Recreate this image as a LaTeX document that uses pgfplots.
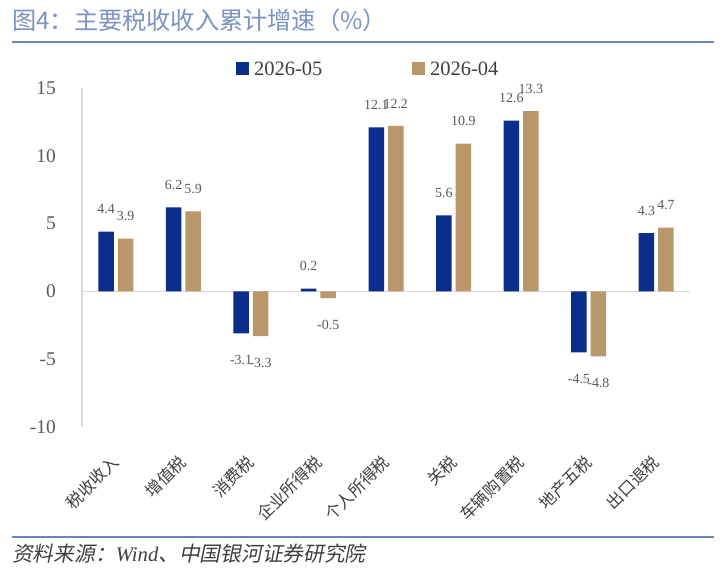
\documentclass[border=0pt]{standalone}
\usepackage{pgfplots}
\usepackage{pgfplotstable}
\pgfplotsset{compat=1.18}
\usepackage{fontspec}
\setmainfont{Liberation Serif}
\newfontfamily\cjk{Noto Sans CJK SC}
\newfontfamily\cjkit[FakeSlant=0.2]{Noto Sans CJK SC}
\definecolor{barblue}{HTML}{0B2D8C}
\definecolor{bartan}{HTML}{B9976A}
\definecolor{axisgray}{HTML}{D9D9D9}
\definecolor{labgray}{HTML}{595959}
\definecolor{catgray}{HTML}{3F3F3F}
\definecolor{titleblue}{HTML}{7A93C2}
\definecolor{lineblue}{HTML}{6A85B6}

\pgfplotstableread{
x y05 y04
0 4.4 3.9
1 6.2 5.9
2 -3.1 -3.3
3 0.2 -0.5
4 12.1 12.2
5 5.6 10.9
6 12.6 13.3
7 -4.5 -4.8
8 4.3 4.7
}\taxdata

\begin{document}
\begin{tikzpicture}[x=1bp,y=1bp]
\begin{axis}[
  scale only axis, width=608bp, height=339bp,
  xmin=-0.5, xmax=8.5, ymin=-10, ymax=15,
  ybar=4bp, bar width=15.5bp,
  axis lines*=left,
  x axis line style={draw=none},
  y axis line style={draw=axisgray, line width=1.3bp, -},
  ytick={-10,-5,0,5,10,15},
  yticklabels={-10,-5,0,5,10,15},
  yticklabel style={font=\fontsize{19.5}{22}\selectfont, text=labgray, anchor=east, inner sep=0pt},
  yticklabel shift=26bp,
  xtick={0,1,2,3,4,5,6,7,8},
  xticklabels={税收收入,增值税,消费税,企业所得税,个人所得税,关税,车辆购置税,地产五税,出口退税},
  xticklabel style={font=\cjk\fontsize{16.5}{19}\selectfont, text=catgray, rotate=45, anchor=east, inner sep=0pt},
  xticklabel shift=32bp,
  major tick length=0pt,
  extra y ticks={0},
  extra y tick labels={},
  extra y tick style={grid=major, major grid style={draw=axisgray, line width=1.3bp}},
  point meta=y,
  nodes near coords={\pgfmathprintnumber[assume math mode=true]{\pgfplotspointmeta}},
  nodes near coords align={vertical},
  every node near coord/.append style={font=\fontsize{14}{16}\selectfont, text=labgray, inner ysep=0pt, text height=31.25bp, text depth=17.75bp},
  clip=false,
]
\addplot[fill=barblue, draw=none] table[x=x, y=y05] {\taxdata};
\addplot[fill=bartan, draw=none] table[x=x, y=y04] {\taxdata};
\coordinate (axsw) at (axis cs:-0.5,-10);
\end{axis}
\pgfresetboundingbox
\begin{scope}[shift={(axsw)}]
\begin{scope}[shift={(-82,-143)}]
\path[use as bounding box] (0,0) rectangle (724,570);
% title
\node[anchor=west, inner sep=0pt, text=titleblue] at (12,550) {\cjk\fontsize{24.3}{28}\selectfont 图4：主要税收收入累计增速（\%）};
\draw[lineblue, line width=1.3bp] (12,528) -- (714,528);
\draw[lineblue, line width=2.6bp] (12,528) -- (26,528);
\draw[lineblue, line width=2.6bp] (700,528) -- (714,528);
% legend
\fill[barblue] (236,495) rectangle (249,508);
\node[anchor=west, inner sep=0pt, text=catgray] at (254,501.5) {\fontsize{20.5}{24}\selectfont 2026-05};
\fill[bartan] (412,495) rectangle (425,508);
\node[anchor=west, inner sep=0pt, text=catgray] at (430,501.5) {\fontsize{20.5}{24}\selectfont 2026-04};
% footer
\draw[lineblue, line width=2.3bp] (12,33) -- (714,33);
\node[anchor=west, inner sep=0pt, text=catgray] at (12,16) {\cjkit\fontsize{20.8}{24}\selectfont 资料来源：{\itshape\rmfamily Wind}、中国银河证券研究院};
\end{scope}
\end{scope}
\end{tikzpicture}
\end{document}
